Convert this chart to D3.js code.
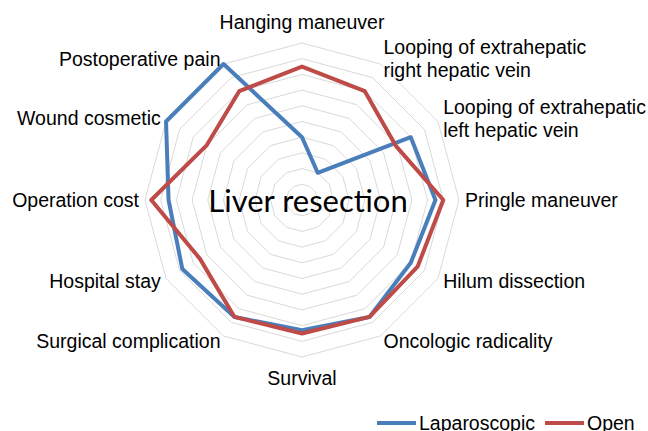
<!DOCTYPE html>
<html>
<head>
<meta charset="utf-8">
<script src="https://cdn.jsdelivr.net/npm/d3@7"></script>
<style>
body { margin: 0; background: #fff; }
text { font-family: "Liberation Sans", Arial, sans-serif; fill: #000; }
</style>
</head>
<body>
<script>
var axes = [
  ["Hanging maneuver"],
  ["Looping of extrahepatic", "right hepatic vein"],
  ["Looping of extrahepatic", "left hepatic vein"],
  ["Pringle maneuver"],
  ["Hilum dissection"],
  ["Oncologic radicality"],
  ["Survival"],
  ["Surgical complication"],
  ["Hospital stay"],
  ["Operation cost"],
  ["Wound cosmetic"],
  ["Postoperative pain"]
];
var laparoscopic = [4.0, 2.0, 8.0, 8.5, 8.0, 8.6, 8.3, 8.6, 8.8, 8.5, 10, 10];
var open = [8.5, 8.0, 6.9, 9.0, 8.5, 8.6, 8.5, 8.6, 7.5, 9.6, 7.0, 8.0];
var seriesNames = ["Laparoscopic", "Open"];
var seriesColors = ["#4a7ebb", "#be4b48"];
var levels = d3.range(1, 11);

var width = 648, height = 431;
var cx = 302, cy = 200, R = 157;

var svg = d3.select("body").append("svg")
    .attr("width", width)
    .attr("height", height);

var r = d3.scaleLinear().domain([0, 10]).range([0, R]);
var angle = d3.scaleLinear().domain([0, axes.length]).range([0, 2 * Math.PI]);

var g = svg.append("g").attr("transform", "translate(" + cx + "," + cy + ")");

// grid rings
var ringLine = d3.lineRadial().angle(function(d, i) { return angle(i); }).curve(d3.curveLinearClosed);
g.selectAll(".ring")
    .data(levels)
    .enter()
    .append("path")
    .attr("d", function(l) { return ringLine.radius(r(l))(axes); })
    .attr("fill", "none")
    .attr("stroke", "#d9d9d9")
    .attr("stroke-width", 1);

// title in the middle
g.append("text")
    .attr("x", 6)
    .attr("y", 0)
    .attr("text-anchor", "middle")
    .attr("dominant-baseline", "central")
    .style("font-family", "Lato, 'Open Sans', sans-serif")
    .style("font-size", "31px")
    .text("Liver resection");

// series
var seriesLine = d3.lineRadial()
    .angle(function(d, i) { return angle(i); })
    .radius(function(d) { return r(d); })
    .curve(d3.curveLinearClosed);
[laparoscopic, open].forEach(function(s, k) {
  g.append("path")
      .attr("d", seriesLine(s))
      .attr("fill", "none")
      .attr("stroke", seriesColors[k])
      .attr("stroke-width", 4)
      .attr("stroke-linejoin", "round");
});

// axis labels
axes.forEach(function(lines, i) {
  var a = angle(i);
  var sx = Math.sin(a), sy = -Math.cos(a);
  var anchor = "middle";
  if (sx > 0.01) anchor = "start";
  if (sx < -0.01) anchor = "end";
  var dist = (anchor == "middle") ? R + 21 : R + 6;
  var x = sx * dist, y = sy * dist;
  var lh = 23;
  var t = g.append("text")
      .attr("text-anchor", anchor)
      .style("font-size", "19.5px");
  lines.forEach(function(l, j) {
    t.append("tspan")
        .attr("x", x)
        .attr("y", y + (j - (lines.length - 1) / 2) * lh)
        .attr("dy", "0.35em")
        .text(l);
  });
});

// legend
var legend = svg.append("g").attr("transform", "translate(377,423)");
var lx = [0, 168];
seriesNames.forEach(function(n, k) {
  legend.append("line")
      .attr("x1", lx[k]).attr("x2", lx[k] + 39)
      .attr("y1", 0).attr("y2", 0)
      .attr("stroke", seriesColors[k])
      .attr("stroke-width", 4);
  legend.append("text")
      .attr("x", lx[k] + 42)
      .attr("y", 0)
      .attr("dy", "0.35em")
      .style("font-size", "19.5px")
      .text(n);
});
</script>
</body>
</html>
